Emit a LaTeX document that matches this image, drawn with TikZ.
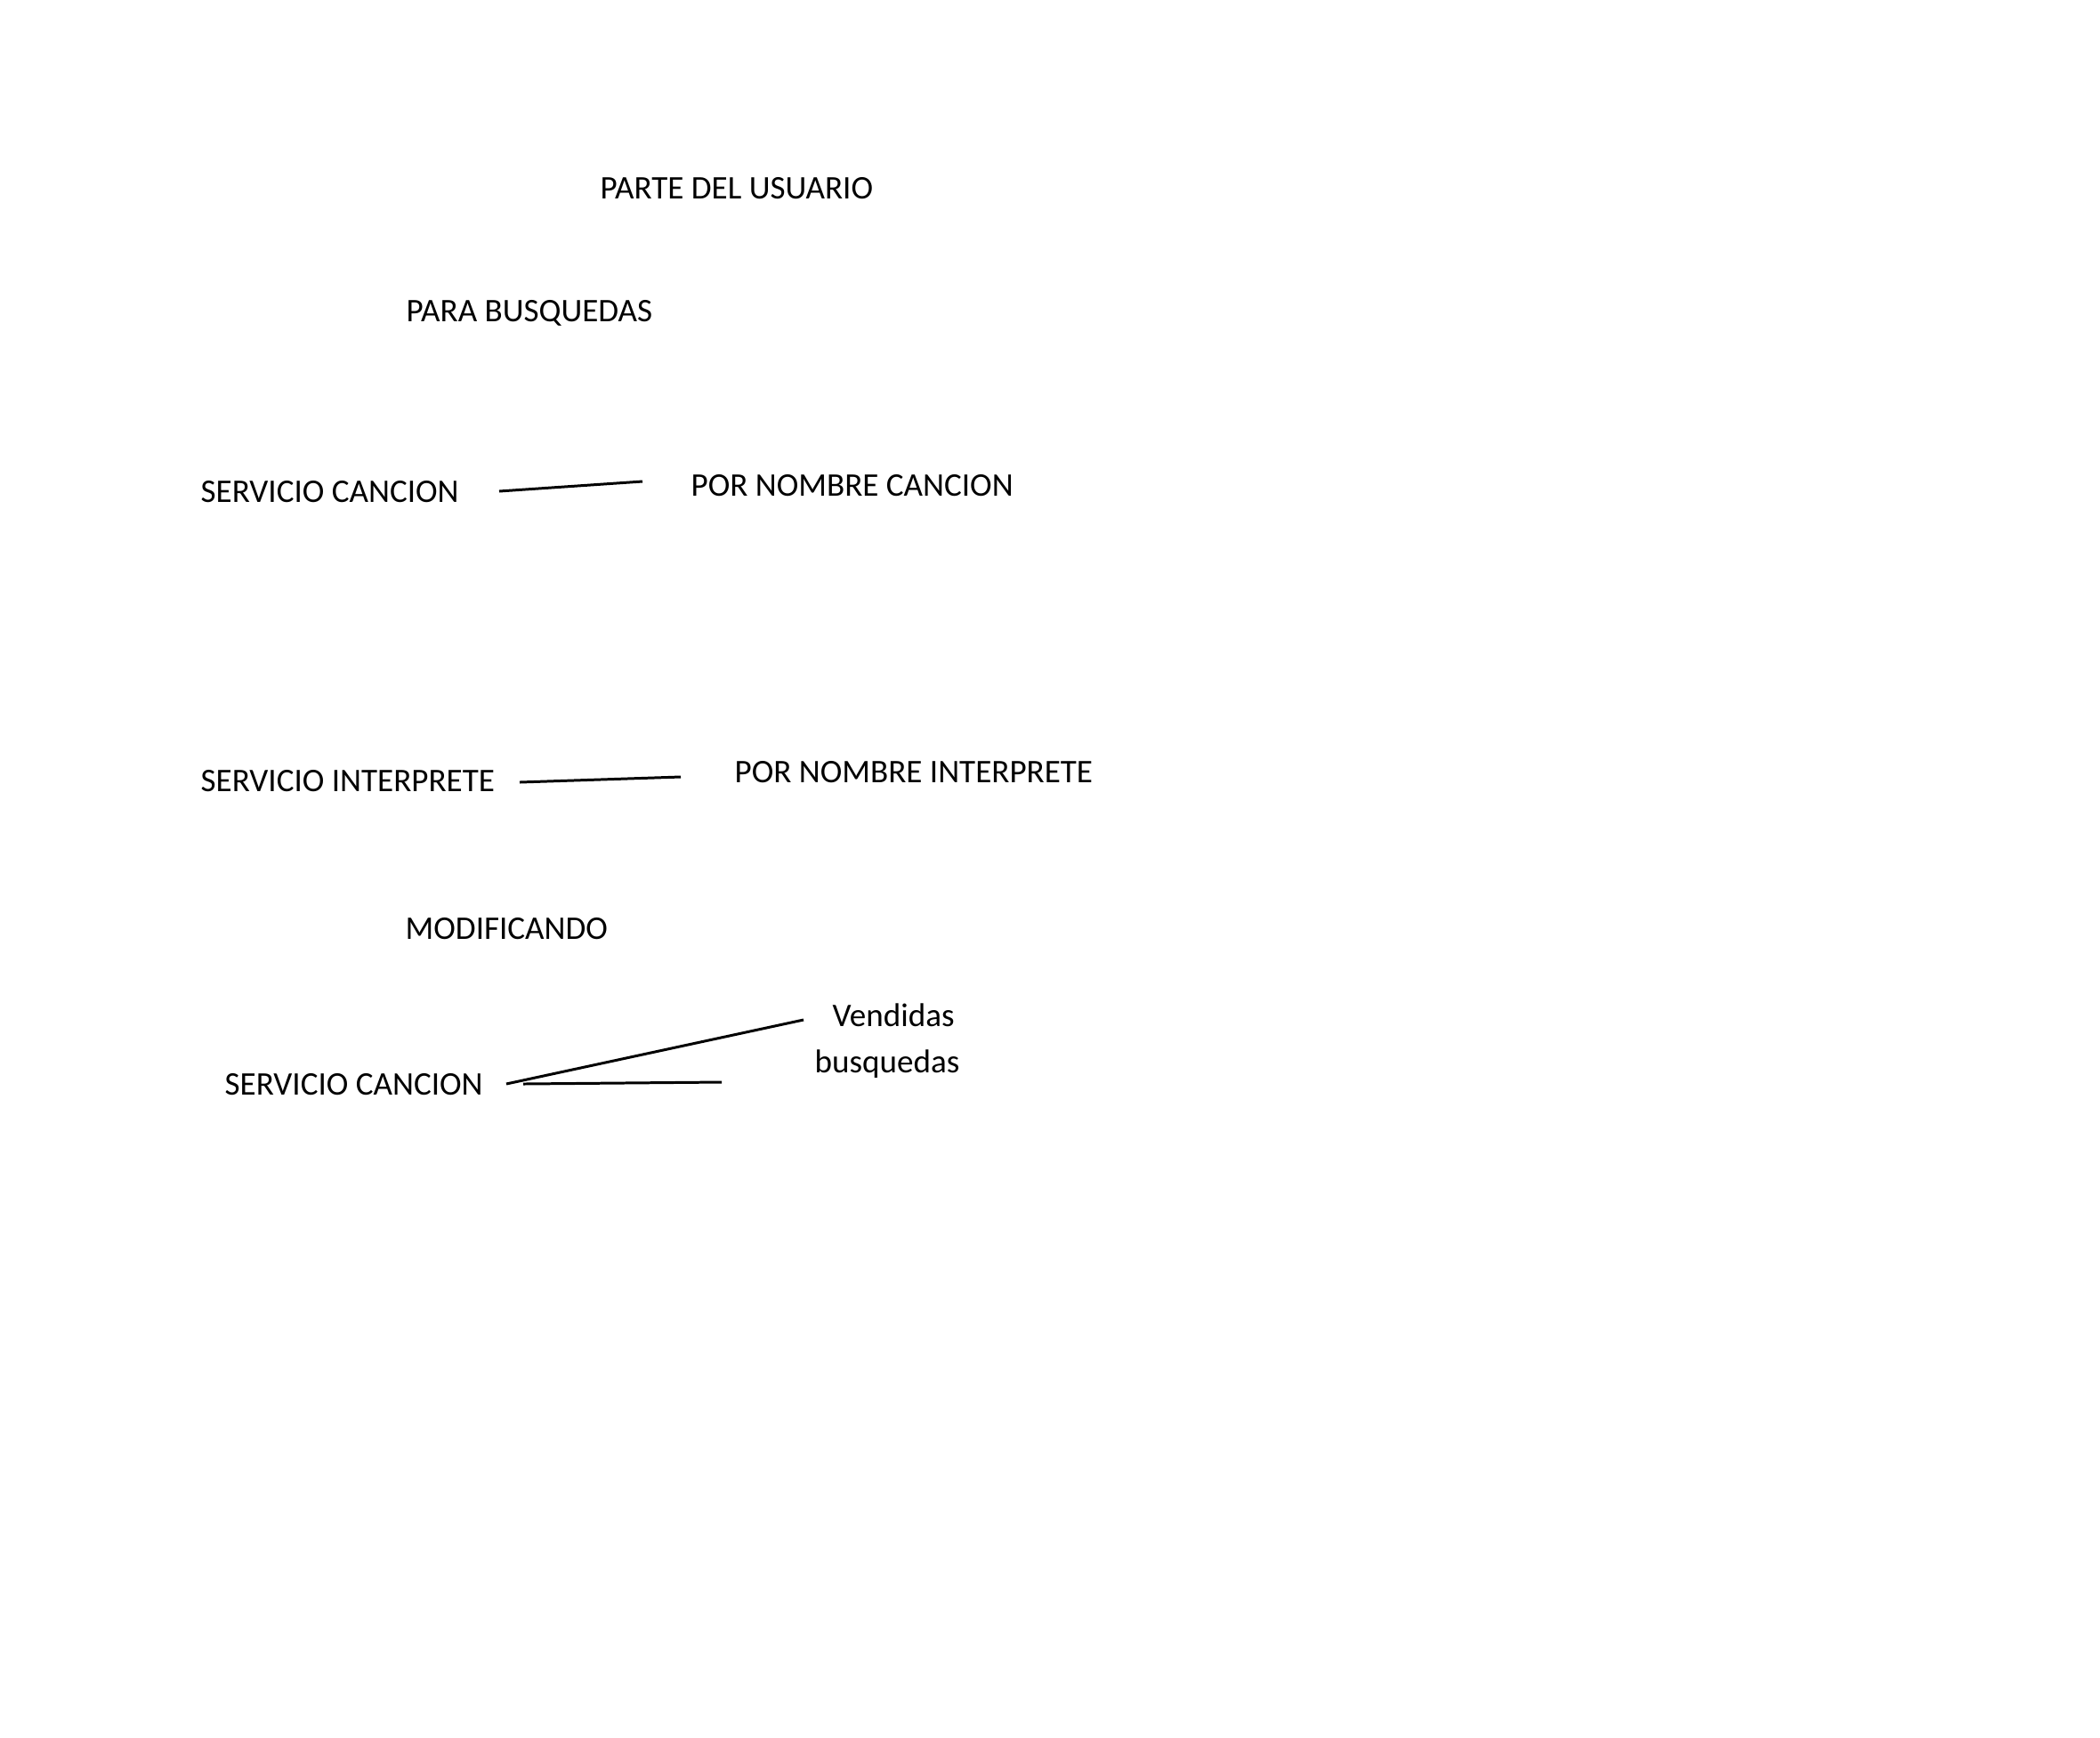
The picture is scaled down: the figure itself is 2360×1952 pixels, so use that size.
\documentclass[tikz,border=0pt]{standalone}
\usepackage{fontspec}
\setmainfont{Carlito}
\begin{document}
\begin{tikzpicture}[x=0.1mm,y=-0.1mm,
  lbl/.style={anchor=base west,inner sep=0pt,font=\fontsize{10.55pt}{12pt}\selectfont},
  conn/.style={line width=0.85pt,line cap=butt}]
\useasboundingbox[fill=white] (0,0) rectangle (2360,1952);
\node[lbl] (parte) at (674,223) {PARTE DEL USUARIO};
\node[lbl] (para) at (456,361) {PARA BUSQUEDAS};
\node[lbl] (sc1) at (225,564) {SERVICIO CANCION};
\node[lbl] (pnc) at (776,557) {POR NOMBRE CANCION};
\node[lbl] (si) at (225,889) {SERVICIO INTERPRETE};
\node[lbl] (pni) at (825,879) {POR NOMBRE INTERPRETE};
\node[lbl] (mod) at (455,1055) {MODIFICANDO};
\node[lbl] (vend) at (935,1153) {Vendidas};
\node[lbl] (busq) at (915,1205) {busquedas};
\node[lbl] (sc3) at (252,1230) {SERVICIO CANCION};
\coordinate (a1) at (561,552);
\coordinate (b1) at (722,541);
\coordinate (a2) at (584,879);
\coordinate (b2) at (765,873);
\coordinate (a3) at (569,1218);
\coordinate (b3) at (903,1146);
\coordinate (a4) at (588,1218);
\coordinate (b4) at (811,1216);
\draw[conn] (a1) -- (b1);
\draw[conn] (a2) -- (b2);
\draw[conn] (a3) -- (b3);
\draw[conn] (a4) -- (b4);
\end{tikzpicture}
\end{document}
